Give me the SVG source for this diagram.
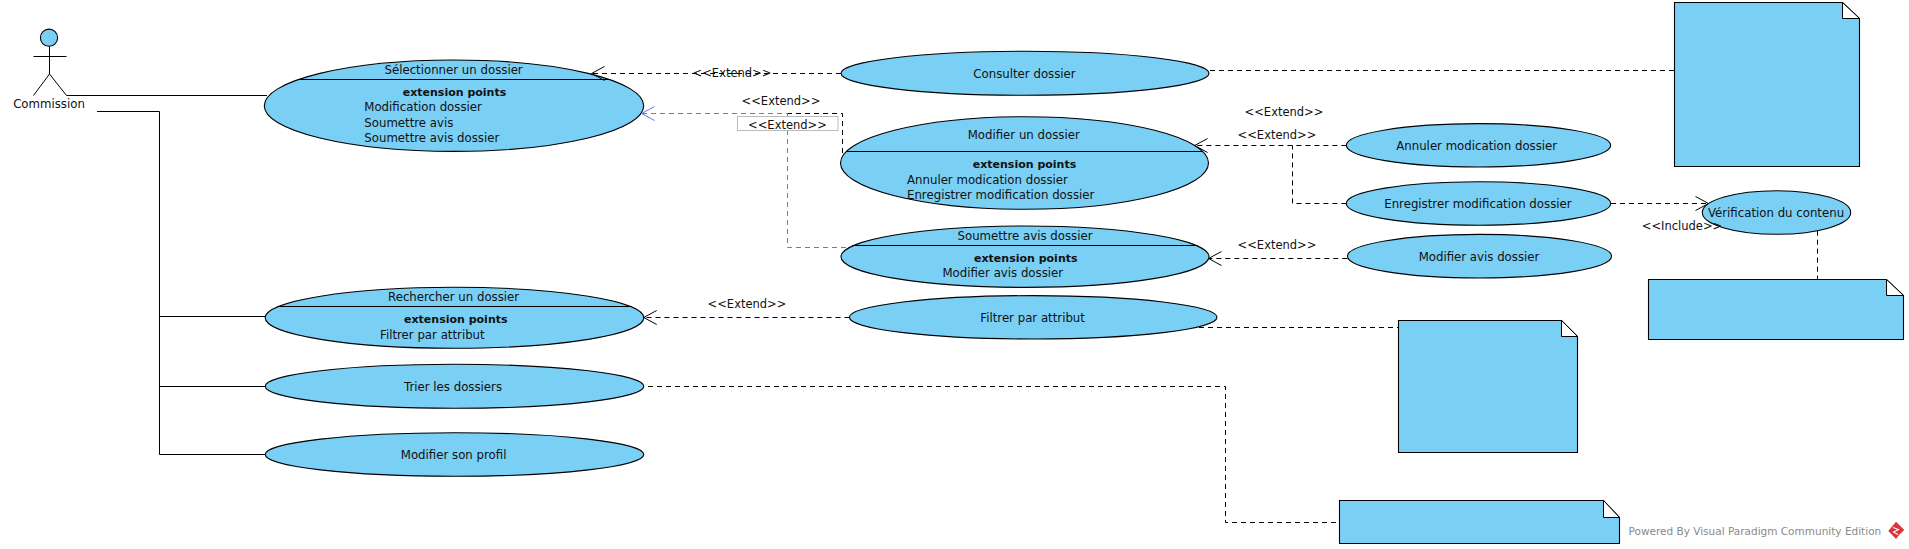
<svg xmlns="http://www.w3.org/2000/svg" width="1909" height="549" viewBox="0 0 1909 549">
<style>
text{font-family:"DejaVu Sans","Liberation Sans",sans-serif;font-size:11.75px;fill:#111}
.m{text-anchor:middle}
.b{font-weight:bold;font-size:11px}
.l{font-size:11.5px}
.n{fill:#7acff5;stroke:#000;stroke-width:1.1}
.d{stroke:#000;stroke-width:1;fill:none}
.f{fill:#fff;stroke:#000;stroke-width:1;stroke-linejoin:miter}
.s{stroke:#000;stroke-width:1;fill:none}
.c{stroke:#000;stroke-width:1;fill:none;stroke-dasharray:5 4}
.u{stroke:#6f6ff0;stroke-width:1;fill:none;stroke-dasharray:5 4}
.w{font-size:10.5px;fill:#8a8a8a}
</style>
<defs>
<marker id="a" markerUnits="userSpaceOnUse" markerWidth="32" markerHeight="32" refX="16" refY="16" orient="auto" overflow="visible"><path d="M3,9 L16,16 L3,23" fill="none" stroke="#000" stroke-width="1"/></marker>
<marker id="ab" markerUnits="userSpaceOnUse" markerWidth="32" markerHeight="32" refX="16" refY="16" orient="auto" overflow="visible"><path d="M3,9 L16,16 L3,23" fill="none" stroke="#6f6ff0" stroke-width="1"/></marker>
</defs>
<g id="actor-commission">
<circle class="n" cx="49" cy="37.7" r="8.6"/>
<path class="s" d="M49.5,46.3V74M33.5,56.5H66.5M33.5,95.5L49.5,74L66.5,95.5"/>
<text class="m" x="49" y="108">Commission</text>
</g>
<g id="uc-selectionner">
<ellipse class="n" cx="454" cy="105.7" rx="189.7" ry="45.7"/>
<path class="d" d="M299,79.5H609"/>
<text class="m" x="453.6" y="74">Sélectionner un dossier</text>
<text class="m b" x="454.5" y="96">extension points</text>
<text x="364.3" y="111">Modification dossier</text>
<text x="364.3" y="127">Soumettre avis</text>
<text x="364.3" y="142">Soumettre avis dossier</text>
</g>
<g id="uc-consulter">
<ellipse class="n" cx="1025" cy="73.3" rx="184" ry="22"/>
<text class="m" x="1024.5" y="77.7">Consulter dossier</text>
</g>
<g id="uc-modifier">
<ellipse class="n" cx="1024.5" cy="163" rx="184" ry="46.3"/>
<path class="d" d="M846,151.5H1203"/>
<text class="m" x="1023.7" y="138.7">Modifier un dossier</text>
<text class="m b" x="1024.5" y="168">extension points</text>
<text x="907" y="184">Annuler modication dossier</text>
<text x="907" y="199">Enregistrer modification dossier</text>
</g>
<g id="uc-soumettre">
<ellipse class="n" cx="1025" cy="256.7" rx="184" ry="30.7"/>
<path class="d" d="M852,245.5H1198"/>
<text class="m" x="1025" y="240">Soumettre avis dossier</text>
<text class="m b" x="1025.8" y="262">extension points</text>
<text x="942.4" y="277">Modifier avis dossier</text>
</g>
<g id="uc-annuler">
<ellipse class="n" cx="1478.5" cy="145.3" rx="132.2" ry="21.7"/>
<text class="m" x="1476.7" y="149.7">Annuler modication dossier</text>
</g>
<g id="uc-enregistrer">
<ellipse class="n" cx="1478.5" cy="203.5" rx="132.2" ry="21.8"/>
<text class="m" x="1477.9" y="207.7">Enregistrer modification dossier</text>
</g>
<g id="uc-modifier-avis">
<ellipse class="n" cx="1479.5" cy="256.2" rx="132" ry="21.8"/>
<text class="m" x="1479" y="260.7">Modifier avis dossier</text>
</g>
<g id="uc-verification">
<ellipse class="n" cx="1776.5" cy="212.5" rx="74.2" ry="21.8"/>
<text class="m" x="1776" y="216.7">Vérification du contenu</text>
</g>
<g id="uc-rechercher">
<ellipse class="n" cx="454.5" cy="317.8" rx="189.3" ry="30.5"/>
<path class="d" d="M277,306.5H632"/>
<text class="m" x="453.6" y="301">Rechercher un dossier</text>
<text class="m b" x="455.8" y="323">extension points</text>
<text x="380" y="339">Filtrer par attribut</text>
</g>
<g id="uc-filtrer">
<ellipse class="n" cx="1033.2" cy="317.3" rx="183.8" ry="21.7"/>
<text class="m" x="1032.6" y="321.7">Filtrer par attribut</text>
</g>
<g id="uc-trier">
<ellipse class="n" cx="454.5" cy="386.3" rx="189.3" ry="22"/>
<text class="m" x="453" y="390.7">Trier les dossiers</text>
</g>
<g id="uc-profil">
<ellipse class="n" cx="454.5" cy="454.5" rx="189.3" ry="21.8"/>
<text class="m" x="453.6" y="459">Modifier son profil</text>
</g>
<g id="note-1">
<path class="n" d="M1674.5,2.5H1842.5L1859.5,18.5V166.5H1674.5Z"/>
<path class="f" d="M1842.5,2.5L1859.5,18.5H1842.5Z"/>
</g>
<g id="note-2">
<path class="n" d="M1648.5,279.5H1886.5L1903.5,295.5V339.5H1648.5Z"/>
<path class="f" d="M1886.5,279.5L1903.5,295.5H1886.5Z"/>
</g>
<g id="note-3">
<path class="n" d="M1398.5,320.5H1561.5L1577.5,336.5V452.5H1398.5Z"/>
<path class="f" d="M1561.5,320.5L1577.5,336.5H1561.5Z"/>
</g>
<g id="note-4">
<path class="n" d="M1339.5,500.5H1603.5L1619.5,517.5V543.5H1339.5Z"/>
<path class="f" d="M1603.5,500.5L1619.5,517.5H1603.5Z"/>
</g>
<g id="connectors">
<path class="s" d="M66.5,95.5H267"/>
<path class="s" d="M97,111.5H159.5V454.5H265"/>
<path class="s" d="M159.5,316.5H265.2M159.5,386.5H265"/>
<path class="c" d="M841,73.5H591.5" marker-end="url(#a)"/>
<path class="c" d="M1210,70.5H1674"/>
<path class="c" d="M842.5,153V113.5H787.5"/>
<path class="u" d="M846,247.5H787.5V113.5H641.5" marker-end="url(#ab)"/>
<path class="c" d="M1346.4,145.5H1194.6" marker-end="url(#a)"/>
<path class="c" d="M1346.4,203.5H1292.5V145.5"/>
<path class="c" d="M1347.3,258.5H1208.5" marker-end="url(#a)"/>
<path class="c" d="M1611,203.5H1708.5" marker-end="url(#a)"/>
<path class="c" d="M1817.5,230.7V279.3"/>
<path class="c" d="M849.5,317.5H643.7" marker-end="url(#a)"/>
<path class="c" d="M1199,327.5H1398.3"/>
<path class="c" d="M648,386.5H1225.5V522.5H1339"/>
<rect x="737.5" y="116.5" width="100.5" height="14" fill="#fff" stroke="#bbb" stroke-width="1"/>
<text class="m l" x="787.5" y="128.7">&lt;&lt;Extend&gt;&gt;</text>
<text class="m l" x="781" y="104.7">&lt;&lt;Extend&gt;&gt;</text>
<text class="m l" x="732" y="77.3">&lt;&lt;Extend&gt;&gt;</text>
<text class="m l" x="1284" y="116">&lt;&lt;Extend&gt;&gt;</text>
<text class="m l" x="1277" y="139">&lt;&lt;Extend&gt;&gt;</text>
<text class="m l" x="1277" y="249">&lt;&lt;Extend&gt;&gt;</text>
<text class="m l" x="747" y="307.7">&lt;&lt;Extend&gt;&gt;</text>
<text class="m l" x="1682" y="230">&lt;&lt;Include&gt;&gt;</text>
</g>
<g id="watermark">
<text class="w" x="1628.5" y="535">Powered By Visual Paradigm Community Edition</text>
<path d="M1896,521.7L1904.3,530L1899.5,534.5L1896,539L1888.3,531Z" fill="#d8353c"/>
<path d="M1893,527.5L1898.5,529.5L1893.5,532L1898,534.5" fill="none" stroke="#fff" stroke-width="1.1"/>
</g>
</svg>
